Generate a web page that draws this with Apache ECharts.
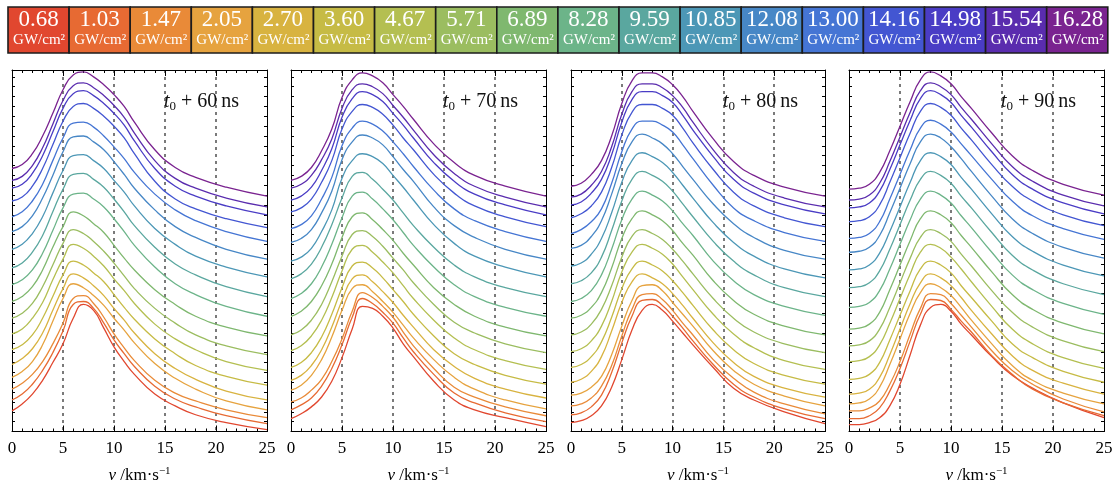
<!DOCTYPE html>
<html>
<head>
<meta charset="utf-8">
<script src="https://cdn.jsdelivr.net/npm/echarts@6/dist/echarts.min.js"></script>
<style>
  html, body { margin: 0; padding: 0; background: #fff; }
  #chart { width: 1117px; height: 489px; }
</style>
</head>
<body>
<div id="chart"></div>
<script>
// Velocity samples (km/s) shared by every profile
const velocity = [0, 1, 2, 3, 4, 5, 6, 7, 8, 9, 10, 11, 12, 14, 16, 18, 21, 25];

// Laser intensities (GW/cm^2), lowest to highest
const intensityLabels = ['0.68', '1.03', '1.47', '2.05', '2.70', '3.60', '4.67', '5.71', '6.89',
  '8.28', '9.59', '10.85', '12.08', '13.00', '14.16', '14.98', '15.54', '16.28'];
const intensityColors = ['#e1472f', '#e76a33', '#e98a38', '#e6a33f', '#d8b340', '#c6bb45',
  '#b4bf51', '#9bbd60', '#7fb86f', '#6cb489', '#5aa79f', '#4c97b6', '#4787c6', '#4575d4',
  '#4356d2', '#4a3cc5', '#5a2cae', '#7a2390'];

// Delay after t0 for each panel (ns)
const delayLabels = ['60', '70', '80', '90'];

// Offset velocity distributions (arb. units), one row per intensity
const profiles60 = [
  [21, 28, 38, 52, 70, 89, 115, 129, 123, 105, 86, 71, 58, 38, 26, 17, 9, 2],
  [32, 38, 48, 62, 80, 102, 129, 132, 125, 110, 93, 79, 66, 46, 33, 25, 16, 8],
  [43, 49, 58, 71, 89, 110, 135, 138, 130, 116, 99, 85, 72, 52, 39, 31, 22, 14],
  [55, 61, 71, 88, 112, 135, 150, 146, 138, 128, 115, 103, 90, 69, 54, 43, 31, 22],
  [68, 74, 84, 100, 123, 145, 160, 156, 148, 138, 125, 113, 100, 79, 64, 53, 41, 32],
  [83, 88, 98, 115, 137, 159, 173, 169, 161, 152, 139, 126, 114, 94, 79, 67, 56, 47],
  [99, 104, 115, 131, 154, 175, 190, 186, 178, 168, 155, 143, 130, 109, 94, 83, 71, 62],
  [115, 120, 130, 147, 169, 191, 205, 201, 193, 183, 171, 158, 145, 125, 110, 98, 87, 78],
  [132, 137, 147, 164, 187, 208, 223, 219, 211, 202, 189, 176, 164, 144, 129, 117, 106, 97],
  [149, 154, 164, 181, 204, 227, 241, 242, 236, 228, 216, 203, 189, 167, 150, 139, 127, 117],
  [166, 171, 182, 199, 223, 246, 261, 262, 256, 248, 236, 223, 209, 187, 170, 159, 147, 137],
  [185, 190, 201, 218, 242, 265, 280, 281, 275, 267, 255, 243, 229, 206, 190, 178, 167, 157],
  [203, 208, 219, 237, 260, 284, 299, 300, 294, 286, 274, 261, 247, 225, 208, 197, 185, 175],
  [218, 223, 234, 251, 275, 298, 313, 314, 309, 300, 289, 277, 263, 241, 225, 214, 203, 193],
  [234, 238, 249, 267, 291, 315, 330, 333, 328, 320, 310, 298, 282, 254, 236, 226, 216, 207],
  [247, 251, 262, 280, 304, 328, 343, 346, 341, 333, 323, 311, 295, 267, 249, 239, 229, 220],
  [255, 259, 270, 288, 312, 336, 351, 354, 349, 341, 331, 319, 303, 275, 257, 247, 237, 228],
  [267, 271, 282, 300, 323, 347, 362, 365, 360, 352, 342, 330, 314, 286, 268, 258, 248, 239]
];
const profiles70 = [
  [13, 18, 25, 35, 51, 75, 104, 127, 125, 117, 105, 89, 76, 51, 32, 22, 14, 5],
  [22, 27, 34, 46, 64, 88, 116, 135, 130, 121, 110, 95, 81, 58, 39, 29, 19, 10],
  [30, 34, 42, 53, 71, 94, 122, 141, 136, 127, 116, 101, 87, 64, 45, 35, 25, 16],
  [42, 47, 57, 73, 96, 123, 145, 149, 142, 132, 121, 108, 95, 73, 55, 43, 32, 23],
  [52, 57, 67, 83, 106, 133, 155, 159, 152, 142, 131, 118, 106, 83, 66, 54, 43, 34],
  [65, 70, 80, 96, 119, 146, 168, 172, 166, 156, 144, 132, 119, 97, 79, 68, 57, 48],
  [82, 87, 97, 113, 136, 163, 185, 189, 182, 172, 161, 148, 135, 113, 95, 83, 72, 63],
  [98, 103, 113, 129, 152, 178, 200, 204, 198, 188, 176, 164, 151, 129, 111, 100, 89, 80],
  [117, 122, 132, 148, 170, 197, 218, 222, 215, 205, 194, 181, 169, 146, 129, 117, 106, 97],
  [135, 140, 150, 167, 190, 217, 239, 243, 236, 226, 215, 202, 189, 167, 149, 137, 126, 117],
  [155, 160, 170, 187, 210, 237, 259, 263, 256, 246, 235, 222, 209, 187, 169, 157, 146, 137],
  [173, 177, 186, 203, 225, 257, 275, 282, 279, 272, 260, 248, 235, 210, 191, 178, 167, 157],
  [192, 196, 205, 222, 244, 276, 294, 301, 298, 291, 279, 266, 254, 228, 209, 197, 185, 175],
  [206, 210, 219, 236, 258, 290, 308, 315, 312, 305, 294, 282, 269, 245, 226, 214, 203, 193],
  [223, 227, 236, 253, 275, 307, 325, 332, 329, 322, 311, 298, 286, 261, 242, 229, 218, 208],
  [235, 239, 248, 265, 287, 319, 338, 345, 342, 335, 323, 311, 298, 273, 254, 241, 230, 220],
  [247, 251, 260, 276, 297, 328, 347, 353, 350, 343, 331, 319, 306, 281, 262, 249, 238, 228],
  [255, 259, 268, 285, 307, 339, 357, 364, 361, 354, 342, 330, 317, 292, 273, 260, 249, 239]
];
const profiles80 = [
  [9, 11, 16, 26, 45, 73, 103, 123, 129, 123, 112, 100, 88, 65, 44, 32, 20, 8],
  [17, 19, 25, 37, 60, 90, 117, 133, 134, 128, 117, 105, 92, 68, 48, 35, 23, 13],
  [26, 28, 34, 46, 67, 97, 124, 139, 140, 134, 123, 110, 98, 73, 54, 40, 28, 18],
  [37, 39, 45, 56, 78, 107, 133, 148, 149, 143, 131, 119, 107, 82, 62, 48, 36, 26],
  [50, 53, 61, 76, 102, 131, 152, 160, 156, 150, 140, 128, 115, 90, 70, 56, 44, 35],
  [65, 68, 76, 91, 116, 145, 165, 173, 169, 163, 153, 141, 128, 103, 83, 69, 57, 48],
  [81, 84, 92, 107, 132, 162, 182, 190, 186, 180, 170, 157, 144, 119, 99, 85, 72, 63],
  [98, 101, 109, 124, 148, 177, 198, 205, 201, 195, 185, 173, 160, 135, 115, 101, 89, 80],
  [115, 118, 126, 141, 166, 196, 216, 224, 220, 214, 204, 191, 179, 153, 133, 119, 107, 98],
  [132, 135, 143, 159, 185, 215, 236, 244, 240, 234, 224, 211, 199, 173, 153, 139, 127, 118],
  [150, 153, 161, 177, 204, 234, 256, 264, 260, 254, 244, 231, 218, 193, 173, 159, 146, 137],
  [168, 171, 180, 196, 222, 253, 275, 283, 279, 273, 263, 250, 237, 212, 192, 178, 165, 156],
  [186, 189, 198, 214, 241, 272, 294, 302, 298, 292, 282, 269, 256, 231, 211, 197, 184, 175],
  [201, 205, 213, 226, 252, 284, 307, 315, 315, 311, 304, 291, 277, 250, 227, 214, 202, 193],
  [217, 221, 229, 243, 268, 301, 324, 332, 332, 328, 321, 308, 293, 266, 243, 229, 217, 208],
  [230, 233, 242, 256, 281, 314, 337, 345, 345, 341, 334, 321, 306, 279, 256, 242, 230, 221],
  [238, 241, 250, 264, 289, 322, 345, 353, 353, 349, 341, 329, 314, 286, 263, 249, 237, 228],
  [249, 252, 261, 275, 300, 333, 356, 364, 364, 360, 352, 340, 325, 297, 274, 260, 248, 239]
];
const profiles90 = [
  [7, 7, 9, 14, 26, 48, 78, 108, 126, 129, 122, 109, 98, 76, 57, 44, 29, 14],
  [13, 13, 16, 24, 41, 64, 92, 119, 134, 133, 124, 112, 101, 77, 58, 43, 29, 16],
  [21, 21, 24, 31, 48, 71, 99, 125, 140, 139, 130, 118, 106, 82, 62, 48, 33, 20],
  [28, 29, 33, 45, 68, 94, 120, 141, 150, 146, 138, 126, 113, 89, 67, 52, 39, 28],
  [38, 39, 43, 55, 78, 104, 130, 151, 160, 156, 148, 136, 123, 99, 77, 62, 49, 38],
  [53, 54, 58, 70, 93, 118, 143, 165, 173, 169, 161, 148, 136, 112, 89, 75, 61, 50],
  [71, 72, 76, 88, 110, 135, 160, 182, 190, 186, 177, 165, 152, 127, 104, 89, 75, 64],
  [87, 88, 92, 104, 126, 151, 176, 197, 205, 201, 193, 180, 168, 143, 121, 106, 92, 81],
  [104, 105, 109, 121, 144, 169, 194, 216, 224, 220, 212, 199, 187, 162, 139, 124, 110, 99],
  [126, 127, 131, 143, 165, 190, 215, 236, 244, 240, 232, 219, 207, 182, 159, 144, 130, 119],
  [146, 147, 151, 163, 185, 210, 235, 256, 264, 260, 252, 239, 227, 202, 179, 164, 150, 139],
  [164, 165, 169, 181, 203, 228, 253, 275, 283, 279, 271, 258, 246, 221, 198, 183, 169, 158],
  [182, 183, 187, 199, 222, 247, 272, 294, 302, 298, 289, 277, 264, 239, 216, 201, 187, 176],
  [196, 197, 201, 213, 236, 261, 286, 308, 316, 312, 304, 292, 280, 256, 234, 219, 206, 195],
  [213, 214, 218, 230, 253, 278, 303, 325, 333, 329, 321, 308, 296, 271, 249, 234, 220, 209],
  [227, 228, 232, 244, 266, 291, 316, 338, 346, 342, 334, 321, 309, 284, 261, 246, 232, 221],
  [235, 236, 240, 252, 274, 299, 324, 346, 354, 350, 342, 329, 317, 292, 269, 254, 240, 229],
  [246, 247, 251, 263, 285, 310, 335, 357, 365, 361, 353, 340, 328, 303, 280, 265, 251, 240]
];
const panelProfiles = [profiles60, profiles70, profiles80, profiles90];

const SERIF = '"Liberation Serif", "Times New Roman", serif';
const gridLefts = [12, 291, 571, 849];
const gridWidths = [255, 255, 254, 255];
const GRID_TOP = 70, GRID_H = 367, Y_MAX = 367;

const grids = [], xAxes = [], yAxes = [], series = [], graphics = [];

panelProfiles.forEach((profiles, p) => {
  grids.push({ left: gridLefts[p], top: GRID_TOP, width: gridWidths[p], height: GRID_H, containLabel: false });

  const tickCommon = {
    axisLine: { show: true, onZero: false, lineStyle: { color: '#000', width: 1 } },
    axisTick: { show: true, inside: true, length: 6, lineStyle: { color: '#000', width: 1 } },
    minorTick: { show: true, splitNumber: 5, length: 3, lineStyle: { color: '#000', width: 1 } }
  };
  // bottom axis with labels and dotted guides
  xAxes.push(Object.assign({
    gridIndex: p, type: 'value', min: 0, max: 25, interval: 5, position: 'bottom',
    axisLabel: { color: '#000', fontFamily: SERIF, fontSize: 17, margin: 9, showMinLabel: true, showMaxLabel: true },
    splitLine: { show: true, showMinLine: false, showMaxLine: false,
      lineStyle: { color: '#7a7a7a', type: [3, 4], width: 2 } },
    name: '{it|v} /km·s{sup|−1}', nameLocation: 'middle', nameGap: 34,
    nameTextStyle: {
      color: '#000', fontFamily: SERIF, fontSize: 17,
      rich: {
        it: { fontFamily: SERIF, fontSize: 17, fontStyle: 'italic', color: '#000' },
        sup: { fontFamily: SERIF, fontSize: 11, color: '#000', padding: [0, 0, 9, 0] }
      }
    }
  }, tickCommon));
  // top frame axis
  xAxes.push(Object.assign({
    gridIndex: p, type: 'value', min: 0, max: 25, interval: 5, position: 'top',
    axisLabel: { show: false }, splitLine: { show: false }
  }, tickCommon));

  const yCommon = {
    gridIndex: p, type: 'value', min: 0, max: Y_MAX, interval: 10,
    axisLine: { show: true, onZero: false, lineStyle: { color: '#000', width: 1 } },
    axisTick: { show: true, inside: true, length: 3, lineStyle: { color: '#000', width: 1 } },
    axisLabel: { show: false }, splitLine: { show: false }
  };
  yAxes.push(Object.assign({ position: 'left' }, yCommon));
  yAxes.push(Object.assign({ position: 'right' }, yCommon));

  profiles.forEach((row, i) => {
    series.push({
      type: 'line',
      name: intensityLabels[i] + ' GW/cm²',
      xAxisIndex: 2 * p, yAxisIndex: 2 * p,
      data: velocity.map((v, k) => [v, row[k]]),
      smooth: 0.5,
      showSymbol: false,
      silent: true,
      lineStyle: { color: intensityColors[i], width: 1.3 },
      z: 3
    });
  });

  // delay annotation
  graphics.push({
    type: 'text', left: gridLefts[p] + 152, top: 92, z: 10,
    style: {
      text: '{i|t}{s|0}{n| + ' + delayLabels[p] + '\u2009ns}',
      rich: {
        i: { fontFamily: SERIF, fontSize: 20, fontStyle: 'italic', fill: '#111' },
        s: { fontFamily: SERIF, fontSize: 13, fill: '#111', padding: [9, 0, 0, 0] },
        n: { fontFamily: SERIF, fontSize: 20, fill: '#111' }
      }
    }
  });
});

// Intensity colour key across the top
const KEY_LEFT = 8, KEY_TOP = 7, KEY_W = 61.1, KEY_H = 46;
intensityLabels.forEach((lab, i) => {
  const x = KEY_LEFT + i * KEY_W;
  graphics.push({
    type: 'rect', z: 5,
    shape: { x: x, y: KEY_TOP, width: KEY_W, height: KEY_H },
    style: { fill: intensityColors[i], stroke: '#1c1c1c', lineWidth: 1.6 }
  });
  graphics.push({
    type: 'text', z: 6,
    style: { x: x + KEY_W / 2, y: KEY_TOP + 13, text: lab, fill: '#fff',
      fontFamily: SERIF, fontSize: 23, align: 'center', verticalAlign: 'middle' }
  });
  graphics.push({
    type: 'text', z: 6,
    style: { x: x + KEY_W / 2 + 0.5, y: KEY_TOP + 33, text: 'GW/cm²', fill: '#fff',
      fontFamily: SERIF, fontSize: 15, align: 'center', verticalAlign: 'middle' }
  });
});

const chart = echarts.init(document.getElementById('chart'), null, { renderer: 'canvas' });
chart.setOption({
  animation: false,
  backgroundColor: '#fff',
  grid: grids,
  xAxis: xAxes,
  yAxis: yAxes,
  series: series,
  graphic: graphics
});
</script>
</body>
</html>
